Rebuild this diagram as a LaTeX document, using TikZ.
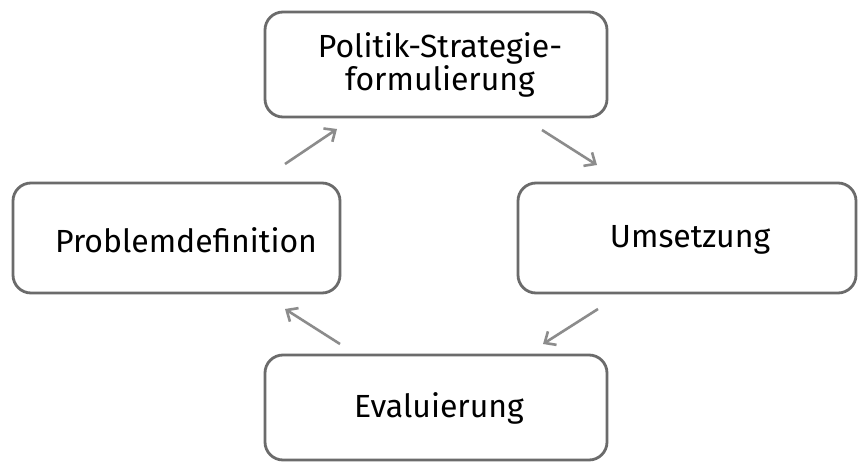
\documentclass[tikz,border=0pt]{standalone}
\usepackage{fontspec}
\setmainfont{Fira Sans}
\usetikzlibrary{arrows.meta}
\begin{document}
\begin{tikzpicture}[x=1pt,y=-1pt,
  box/.style={draw=black!58,line width=2.8pt,rounded corners=18pt,fill=white},
  lbl/.style={font=\fontsize{32}{33}\selectfont,text=black,align=center},
  flow/.style={draw=black!45,line width=2.6pt,-{Straight Barb[length=9pt,width=16pt,line width=2.6pt]}}]
\useasboundingbox (0,0) rectangle (859,463);
\fill[white] (0,0) rectangle (859,463);
\draw[box] (265,12) rectangle (607,117);
\draw[box] (13,183) rectangle (340,293);
\draw[box] (518,183) rectangle (856,293);
\draw[box] (265,355) rectangle (607,460);
\node[lbl] (top) at (440,65) {Politik-Strategie-\\formulierung};
\node[lbl] (left) at (186,240) {Problemdefinition};
\node[lbl] (right) at (690,240) {Umsetzung};
\node[lbl] (bot) at (439,408) {Evaluierung};
\coordinate (a1) at (285,164); \coordinate (a2) at (337,129);
\coordinate (b1) at (542,130); \coordinate (b2) at (597,165);
\coordinate (c1) at (598,309); \coordinate (c2) at (543,344);
\coordinate (d1) at (340,344); \coordinate (d2) at (285,309);
\draw[flow] (a1) -- (a2);
\draw[flow] (b1) -- (b2);
\draw[flow] (c1) -- (c2);
\draw[flow] (d1) -- (d2);
\end{tikzpicture}
\end{document}
